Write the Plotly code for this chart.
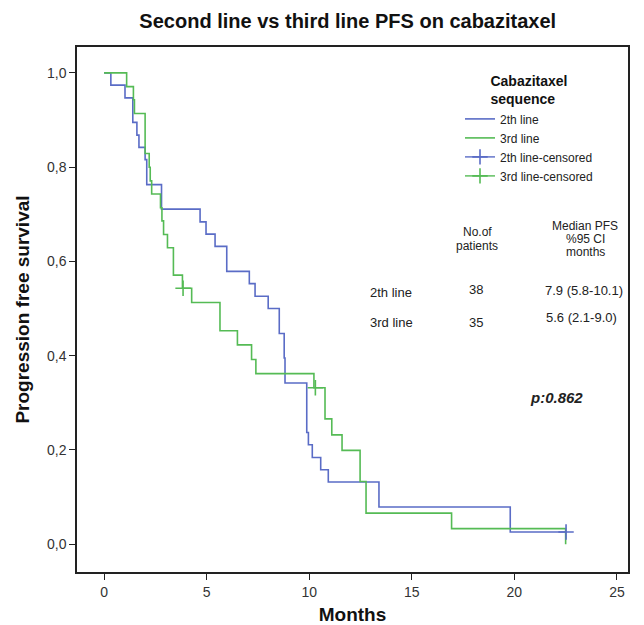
import plotly.graph_objects as go

# ---- data ----
blue_t = [0, 0.33, 1.02, 1.4, 1.6, 1.7, 2.0, 2.08, 2.8, 4.68, 4.97, 5.41, 5.98, 7.08, 7.36, 8.0,
          8.54, 8.78, 8.82, 9.88, 9.96, 10.15, 10.56, 10.93, 13.4, 19.8, 22.52]
blue_s = [1.0, 0.974, 0.947, 0.895, 0.868, 0.842, 0.816, 0.763, 0.711, 0.684, 0.658, 0.632, 0.579,
          0.553, 0.526, 0.500, 0.447, 0.395, 0.342, 0.237, 0.211, 0.184, 0.158, 0.132, 0.079, 0.026, 0.026]

green_t = [0, 1.1, 1.43, 1.48, 2.0, 2.2, 2.25, 2.32, 2.75, 2.82, 2.9, 3.09, 3.38, 3.82, 4.27, 5.65,
           6.5, 7.19, 7.4, 10.23, 10.77, 11.1, 11.6, 12.48, 12.77, 16.94, 22.5]
green_s = [1.0, 0.971, 0.943, 0.914, 0.829, 0.800, 0.771, 0.743, 0.714, 0.686, 0.657, 0.629, 0.571,
           0.543, 0.513, 0.453, 0.423, 0.392, 0.362, 0.332, 0.266, 0.232, 0.199, 0.133, 0.066, 0.033, 0.0]

blue_cens_t = [22.52]
blue_cens_s = [0.026]
green_cens_t = [3.85, None, 10.3]
green_cens_s = [0.543, None, 0.332]

x_ticks = [0, 5, 10, 15, 20, 25]
y_ticks = [0.0, 0.2, 0.4, 0.6, 0.8, 1.0]
y_tick_labels = ["0,0", "0,2", "0,4", "0,6", "0,8", "1,0"]

BLUE = "#5a6cc6"
GREEN = "#55bb55"
FONT = "Liberation Sans, Arial, sans-serif"

fig = go.Figure()
fig.add_trace(go.Scatter(x=blue_t, y=blue_s, mode="lines", line=dict(color=BLUE, width=1.6, shape="hv"),
                         name="2th line"))
fig.add_trace(go.Scatter(x=green_t, y=green_s, mode="lines", line=dict(color=GREEN, width=1.6, shape="hv"),
                         name="3rd line"))
fig.add_trace(go.Scatter(x=blue_cens_t, y=blue_cens_s, mode="lines+markers", connectgaps=False,
                         line=dict(color=BLUE, width=1.4),
                         marker=dict(symbol="cross-thin", size=11, line=dict(color=BLUE, width=1.6)),
                         name="2th line-censored"))
fig.add_trace(go.Scatter(x=green_cens_t, y=green_cens_s, mode="lines+markers", connectgaps=False,
                         line=dict(color=GREEN, width=1.4),
                         marker=dict(symbol="cross-thin", size=11, line=dict(color=GREEN, width=1.6)),
                         name="3rd line-censored"))

L, R, T, B = 77, 16, 47, 53
W, H = 644, 625
PW, PH = W - L - R, H - T - B


def px(x):
    return (x - L) / PW


def py(y):
    return (H - B - y) / PH


annots = []


def txt(text, x, y, size=13, anchor="center", bold=False, italic=False):
    if bold:
        text = "<b>" + text + "</b>"
    if italic:
        text = "<i>" + text + "</i>"
    annots.append(dict(text=text, x=px(x), y=py(y), xref="paper", yref="paper", showarrow=False,
                       xanchor=anchor, yanchor="middle", font=dict(size=size, color="#222", family=FONT)))


txt("No.of", 477, 232, 12)
txt("patients", 477, 246, 12)
txt("Median PFS", 585, 226, 12)
txt("%95 CI", 585, 239, 12)
txt("months", 585, 252, 12)
txt("2th line", 368, 292, anchor="left")
txt("38", 476, 289)
txt("7.9 (5.8-10.1)", 584, 290)
txt("3rd line", 368, 322, anchor="left")
txt("35", 476, 322)
txt("5.6 (2.1-9.0)", 581, 317)
txt("p:0.862", 556, 397, 15, bold=True, italic=True)

fig.update_layout(
    width=W, height=H,
    margin=dict(l=L, r=R, t=T, b=B),
    paper_bgcolor="white", plot_bgcolor="white",
    font=dict(family=FONT, color="#222"),
    title=dict(text="<b>Second line vs third line PFS on cabazitaxel</b>", x=0.54, xanchor="center",
               y=1 - 21 / H, yanchor="middle", font=dict(size=20, color="#111", family=FONT)),
    xaxis=dict(range=[-1.32, 25.54], tickvals=x_ticks, ticks="outside", ticklen=6, tickcolor="#222",
               showline=True, linecolor="#222", linewidth=1.5, mirror=True, showgrid=False, zeroline=False,
               automargin=False, tickfont=dict(size=14, color="#333"),
               title=dict(text="<b>Months</b>", font=dict(size=19, color="#111"), standoff=12)),
    yaxis=dict(range=[-0.059, 1.055], tickvals=y_ticks, ticktext=y_tick_labels, ticks="outside", ticklen=6,
               tickcolor="#222", showline=True, linecolor="#222", linewidth=1.5, mirror=True, showgrid=False,
               zeroline=False, automargin=False, tickfont=dict(size=14, color="#333"),
               title=dict(text="<b>Progression free survival</b>", font=dict(size=19, color="#111"), standoff=12)),
    legend=dict(x=px(460), y=py(68), xanchor="left", yanchor="top", bgcolor="rgba(0,0,0,0)",
                tracegroupgap=0, itemwidth=30, font=dict(size=12, color="#222"),
                title=dict(text="<b>Cabazitaxel<br>sequence</b>", side="top center",
                           font=dict(size=14, color="#111"))),
    annotations=annots,
    showlegend=True,
)

fig.write_html("out.html", config={"displayModeBar": False},
               post_script="document.body.style.margin='0';document.body.style.padding='0';")
